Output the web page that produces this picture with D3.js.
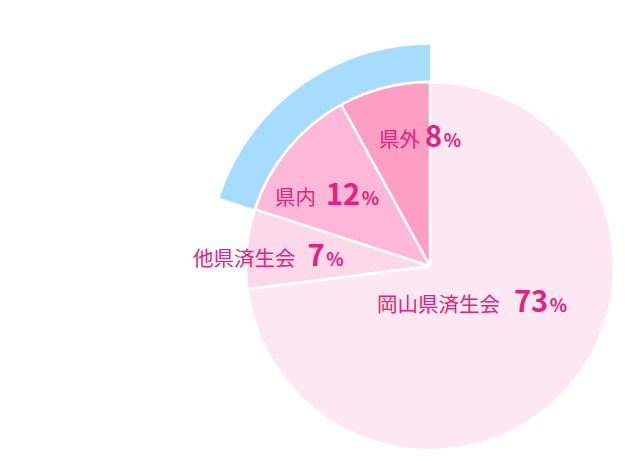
<!DOCTYPE html>
<html>
<head>
<meta charset="utf-8">
<script src="https://cdn.jsdelivr.net/npm/d3@7"></script>
<style>
  html, body { margin: 0; padding: 0; background: #ffffff; }
  svg { display: block; }
</style>
</head>
<body>
<svg id="chart" width="625" height="461"></svg>
<script>
// ---- data ----
const categories = ["岡山県済生会", "他県済生会", "県内", "県外"];
const values = [73, 7, 12, 8];
const highlighted = ["県内", "県外"];   // grouped by the outer blue band

// ---- styles / layout ----
const sliceColors = ["#fde7f3", "#fdd7ea", "#fdb8d9", "#fd9fc5"];
const bandColor = "#a6dcfd";
const textColor = "#e8207c";
const cx = 430, cy = 266, R = 184, bandInner = 185.5, bandOuter = 221;
// label anchor (start x, baseline y) and gap between name and number
const labelLayout = [
  { x: 377, y: 312, gap: 14 },
  { x: 193, y: 266, gap: 12 },
  { x: 275, y: 205, gap: 10 },
  { x: 379, y: 147, gap: 5 }
];

const svg = d3.select("#chart");
const g = svg.append("g").attr("transform", `translate(${cx},${cy})`);

const pie = d3.pie().sort(null).value(d => d.value);
const data = categories.map((c, i) => ({ name: c, value: values[i], i }));
const arcs = pie(data);

const arc = d3.arc().innerRadius(0).outerRadius(R);
const band = d3.arc().innerRadius(bandInner).outerRadius(bandOuter);

// outer blue band
g.selectAll("path.band")
  .data(arcs.filter(a => highlighted.includes(a.data.name)))
  .join("path")
  .attr("class", "band")
  .attr("d", band)
  .attr("fill", bandColor)
  .attr("stroke", bandColor)
  .attr("stroke-width", 0.5);

// slices
g.selectAll("path.slice")
  .data(arcs)
  .join("path")
  .attr("class", "slice")
  .attr("d", arc)
  .attr("fill", d => sliceColors[d.data.i])
  .attr("stroke", "#ffffff")
  .attr("stroke-width", 2.5)
  .attr("stroke-linejoin", "round");

// labels
const font = "'Noto Sans CJK JP', 'Noto Sans', sans-serif";
arcs.forEach(a => {
  const L = labelLayout[a.data.i];
  const t = svg.append("text")
    .attr("x", L.x).attr("y", L.y)
    .attr("fill", textColor)
    .style("font-family", font);
  t.append("tspan")
    .attr("font-size", 20.5)
    .attr("font-weight", 400)
    .text(a.data.name);
  t.append("tspan")
    .attr("dx", L.gap)
    .attr("font-size", 29)
    .attr("font-weight", 700)
    .text(a.data.value);
  t.append("tspan")
    .attr("dx", 1.5)
    .attr("font-size", 18)
    .attr("font-weight", 700)
    .text("%");
});
</script>
</body>
</html>
